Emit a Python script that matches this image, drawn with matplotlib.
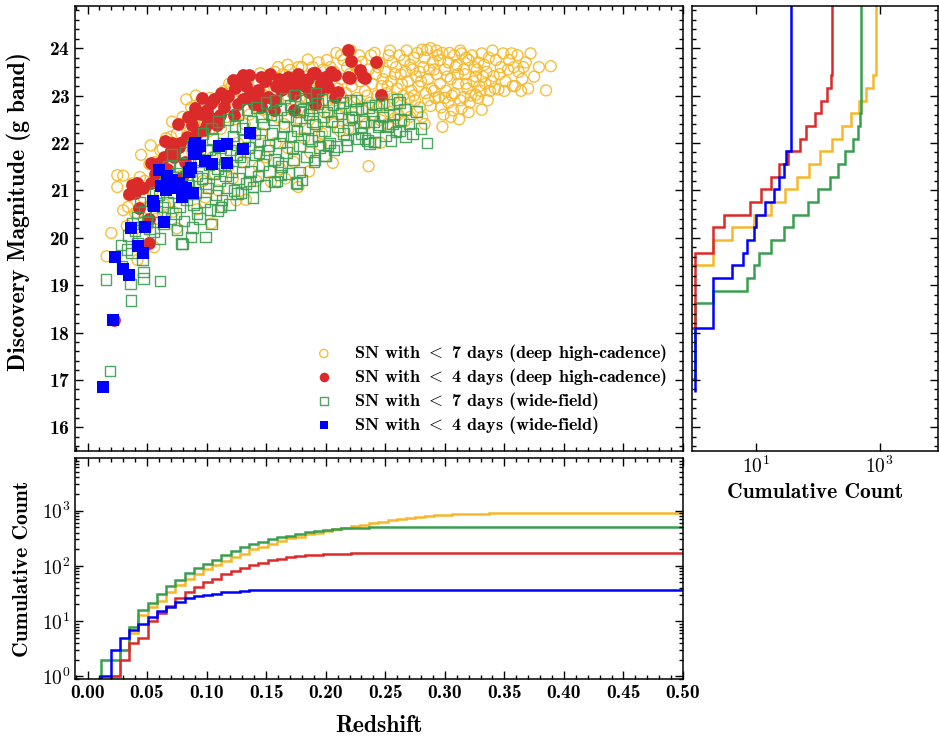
import numpy as np
import matplotlib.pyplot as plt
from matplotlib.ticker import MultipleLocator, LogLocator, FixedLocator, FuncFormatter, NullFormatter, NullLocator

plt.rcParams['font.family'] = ['cmb10', 'DejaVu Serif']
plt.rcParams['mathtext.fontset'] = 'cm'
plt.rcParams['axes.unicode_minus'] = False
plt.rcParams['axes.formatter.use_mathtext'] = True

# colours
c_yel = '#F5B82A'
c_red = '#DB2A2A'
c_grn = '#3A9E50'
c_blu = '#0000FF'

# ---- scatter data: (redshift, discovery magnitude) ----
# SN with < 7 days (deep high-cadence)
yellow = [
    (0.016, 19.61), (0.020, 20.10), (0.025, 21.07), (0.030, 21.31), (0.025, 21.32), (0.030, 20.58),
    (0.042, 20.51), (0.040, 20.52), (0.042, 19.53), (0.051, 20.27), (0.044, 21.28), (0.035, 20.90),
    (0.046, 20.02), (0.050, 20.62), (0.055, 21.00), (0.058, 20.40), (0.060, 21.30), (0.063, 21.88),
    (0.061, 21.85), (0.047, 20.85), (0.038, 21.15), (0.052, 21.55), (0.033, 20.25), (0.056, 19.80),
    (0.045, 21.75), (0.065, 20.70), (0.070, 21.60), (0.070, 22.13), (0.075, 22.20), (0.075, 20.20),
    (0.084, 22.16), (0.083, 22.92), (0.078, 21.30), (0.082, 20.90), (0.088, 21.80), (0.090, 22.40),
    (0.092, 20.60), (0.095, 22.87), (0.097, 21.20), (0.100, 22.60), (0.104, 20.30), (0.105, 21.70),
    (0.108, 22.90), (0.110, 21.00), (0.112, 22.30), (0.115, 23.10), (0.118, 21.50), (0.120, 22.70),
    (0.125, 20.79), (0.133, 20.80), (0.126, 22.00), (0.128, 23.08), (0.068, 21.05), (0.072, 20.55),
    (0.086, 21.45), (0.094, 21.95), (0.099, 20.85), (0.102, 22.25), (0.107, 21.35), (0.113, 20.65),
    (0.117, 22.55), (0.122, 21.25), (0.119, 23.25), (0.063, 20.45), (0.080, 22.55), (0.091, 23.00),
    (0.130, 21.60), (0.132, 22.40), (0.135, 23.35), (0.137, 21.90), (0.140, 22.80), (0.142, 21.20),
    (0.145, 23.47), (0.146, 22.20), (0.148, 23.10), (0.150, 21.70), (0.152, 22.60), (0.154, 21.18),
    (0.155, 23.40), (0.157, 23.50), (0.158, 22.00), (0.160, 22.90), (0.162, 21.45), (0.163, 23.30),
    (0.165, 22.40), (0.167, 23.00), (0.168, 21.90), (0.170, 23.54), (0.171, 22.70), (0.173, 21.60),
    (0.175, 23.20), (0.177, 21.07), (0.176, 22.30), (0.178, 22.95), (0.180, 23.60), (0.182, 22.10),
    (0.183, 23.40), (0.185, 23.76), (0.185, 22.60), (0.187, 21.80), (0.188, 23.10), (0.190, 22.80),
    (0.191, 23.45), (0.193, 22.35), (0.195, 23.20), (0.196, 21.95), (0.198, 23.55), (0.199, 22.65),
    (0.139, 23.00), (0.144, 21.50), (0.151, 22.95), (0.159, 22.55), (0.166, 21.25), (0.172, 23.05),
    (0.179, 22.45), (0.186, 21.40), (0.192, 23.00), (0.197, 22.20),
    (0.200, 23.30), (0.202, 22.90), (0.204, 23.60), (0.206, 21.58), (0.206, 22.45), (0.207, 23.50),
    (0.208, 22.90), (0.210, 23.15), (0.211, 22.60), (0.213, 23.85), (0.213, 23.35), (0.215, 23.75),
    (0.216, 22.75), (0.217, 23.05), (0.219, 22.30), (0.220, 23.45), (0.222, 23.20), (0.223, 22.55),
    (0.225, 23.65), (0.226, 22.95), (0.228, 23.85), (0.229, 23.30), (0.230, 23.71), (0.231, 22.70),
    (0.233, 23.10), (0.234, 22.40), (0.236, 21.51), (0.236, 23.55), (0.237, 22.85), (0.239, 23.25),
    (0.240, 22.60), (0.242, 23.45), (0.243, 23.00), (0.245, 23.70), (0.246, 22.48), (0.246, 22.00),
    (0.247, 23.20), (0.249, 22.80), (0.250, 23.50), (0.251, 23.05), (0.253, 23.85), (0.254, 22.65),
    (0.255, 23.30), (0.257, 22.95), (0.258, 22.52), (0.259, 23.60), (0.260, 23.15), (0.262, 22.85),
    (0.263, 23.45), (0.265, 23.00), (0.266, 23.75), (0.268, 22.70), (0.269, 23.30), (0.271, 22.55),
    (0.272, 23.10), (0.273, 23.55), (0.275, 22.90), (0.276, 23.40), (0.278, 23.20), (0.279, 22.75),
    (0.281, 23.97), (0.281, 22.55), (0.282, 23.60), (0.284, 23.05), (0.285, 23.96), (0.286, 23.35),
    (0.288, 22.78), (0.289, 23.15), (0.290, 23.70), (0.292, 22.95), (0.293, 23.45), (0.295, 22.97),
    (0.296, 23.25), (0.298, 22.34), (0.299, 22.60), (0.300, 23.55), (0.301, 23.10), (0.303, 22.85),
    (0.304, 23.90), (0.305, 23.35), (0.307, 22.69), (0.308, 23.05), (0.310, 23.65), (0.311, 23.25),
    (0.313, 22.90), (0.314, 22.73), (0.314, 23.89), (0.316, 22.97), (0.317, 23.45), (0.319, 23.15),
    (0.320, 23.75), (0.322, 23.00), (0.324, 23.30), (0.326, 23.02), (0.327, 23.55), (0.329, 23.20),
    (0.331, 23.89), (0.332, 23.40),
    (0.205, 23.05), (0.212, 22.25), (0.218, 23.60), (0.224, 22.85), (0.232, 23.40), (0.238, 23.85),
    (0.244, 22.75), (0.248, 23.35), (0.252, 22.40), (0.256, 23.70), (0.261, 22.60), (0.264, 23.25),
    (0.267, 23.50), (0.270, 22.95), (0.274, 23.80), (0.277, 22.65), (0.280, 23.30), (0.283, 22.40),
    (0.287, 23.55), (0.291, 23.10), (0.294, 23.85), (0.297, 22.75), (0.302, 23.40), (0.306, 23.00),
    (0.309, 23.60), (0.312, 22.50), (0.318, 23.25), (0.321, 22.85), (0.325, 23.60), (0.328, 22.95),
    (0.335, 23.50), (0.338, 23.10), (0.341, 23.41), (0.343, 23.75), (0.345, 23.13), (0.347, 23.60),
    (0.349, 23.89), (0.351, 23.30), (0.353, 23.55), (0.356, 23.89), (0.357, 23.20), (0.359, 23.20),
    (0.362, 23.50), (0.365, 23.35), (0.368, 23.70), (0.372, 23.89), (0.375, 23.40), (0.385, 23.11),
    (0.389, 23.62), (0.379, 23.60), (0.370, 23.15), (0.336, 22.90), (0.340, 23.95), (0.331, 22.70),
    (0.334, 23.25),
    (0.201, 23.75), (0.203, 22.60), (0.209, 23.90), (0.214, 22.95), (0.221, 23.95), (0.227, 23.50),
    (0.235, 23.00), (0.241, 23.90), (0.244, 23.60), (0.252, 23.20), (0.254, 23.95), (0.258, 23.45),
    (0.262, 23.85), (0.266, 22.45), (0.268, 23.95), (0.271, 23.65), (0.274, 23.00), (0.277, 23.90),
    (0.279, 23.50), (0.283, 23.80), (0.286, 22.90), (0.288, 24.00), (0.291, 23.55), (0.293, 23.95),
    (0.296, 23.75), (0.298, 23.90), (0.300, 22.95), (0.303, 23.70), (0.305, 22.55), (0.308, 23.85),
    (0.311, 23.45), (0.313, 23.95), (0.316, 23.55), (0.318, 23.80), (0.320, 22.65), (0.323, 23.85),
    (0.326, 23.40), (0.328, 23.70), (0.330, 23.10), (0.333, 23.65), (0.337, 23.80), (0.339, 23.30),
    (0.342, 23.15), (0.346, 23.45), (0.350, 23.10), (0.354, 23.75), (0.358, 23.60), (0.361, 23.85),
    (0.364, 23.10), (0.366, 23.60), (0.160, 23.60), (0.164, 23.45), (0.168, 23.65), (0.174, 23.40),
    (0.177, 23.60), (0.181, 23.25), (0.184, 22.95), (0.189, 23.60), (0.194, 23.70), (0.143, 23.30),
    (0.147, 22.70), (0.153, 23.20), (0.136, 22.60), (0.131, 23.00), (0.124, 22.50), (0.121, 23.20),
    (0.109, 22.70), (0.103, 22.95), (0.097, 22.50), (0.087, 22.75), (0.079, 22.40), (0.071, 22.45),
    (0.066, 22.10), (0.057, 21.60), (0.053, 21.95), (0.048, 21.20), (0.039, 20.95), (0.034, 20.65),
]

# SN with < 4 days (deep high-cadence)
red = [
    (0.0225, 18.26), (0.0514, 19.89), (0.0436, 20.62), (0.0346, 20.93), (0.0374, 21.11), (0.0417, 21.15),
    (0.0529, 21.16), (0.0599, 21.57), (0.0669, 21.46), (0.0712, 21.99), (0.0759, 22.39), (0.0796, 21.28),
    (0.0880, 22.38), (0.0889, 22.59), (0.0900, 22.73), (0.0950, 22.62), (0.1007, 22.69), (0.1007, 22.40),
    (0.1062, 22.92), (0.1147, 22.76), (0.1161, 22.95), (0.1091, 22.38), (0.0936, 21.92), (0.0697, 21.83),
    (0.0725, 21.71), (0.0767, 21.92), (0.1218, 23.32), (0.1302, 23.43), (0.1358, 23.43), (0.1302, 22.92),
    (0.1344, 22.97), (0.1400, 22.83), (0.1456, 22.90), (0.1428, 23.11), (0.1513, 22.97), (0.1568, 22.90),
    (0.1625, 23.11), (0.1681, 23.32), (0.1737, 23.36), (0.1793, 23.25), (0.1850, 23.36), (0.1906, 23.47),
    (0.1962, 23.25), (0.2018, 23.39), (0.2074, 23.43), (0.2187, 23.96), (0.2215, 23.73), (0.2314, 23.39),
    (0.2426, 23.71), (0.1737, 22.69), (0.1906, 22.83), (0.1568, 22.69), (0.1456, 22.76), (0.1260, 22.83),
    (0.1737, 23.04), (0.1863, 23.08), (0.2018, 23.18), (0.2074, 22.97), (0.2187, 23.39), (0.1456, 23.39),
    (0.0978, 22.27), (0.0838, 22.13), (0.1020, 22.55), (0.1091, 22.52), (0.0529, 21.57), (0.0613, 21.50),
    (0.2200, 23.37), (0.2327, 23.37), (0.2103, 23.08), (0.2468, 23.02), (0.1892, 23.47), (0.2046, 23.50),
    (0.1680, 23.39), (0.1962, 23.29), (0.1906, 22.94), (0.0517, 20.40), (0.0820, 21.60), (0.1120, 23.05),
    (0.1580, 23.20), (0.1230, 22.60), (0.0650, 22.05),
    (0.078, 22.00), (0.084, 22.55), (0.092, 22.20), (0.096, 22.95), (0.104, 22.85), (0.111, 22.60),
    (0.118, 23.00), (0.124, 23.15), (0.128, 23.35), (0.133, 23.20), (0.138, 23.05), (0.149, 23.30),
    (0.153, 23.45), (0.161, 23.35), (0.165, 23.15), (0.171, 23.20), (0.177, 23.45), (0.183, 23.20),
    (0.194, 23.10), (0.199, 23.40), (0.064, 21.70), (0.057, 21.35), (0.047, 21.05), (0.040, 20.95),
    (0.229, 23.55),
]

# SN with < 7 days (wide-field)
green = [
    (0.0155, 19.12), (0.019, 17.19), (0.0366, 18.68), (0.036, 19.02), (0.047, 19.28), (0.047, 19.14),
    (0.061, 19.09), (0.029, 19.39), (0.037, 19.68), (0.046, 19.53), (0.042, 19.89), (0.079, 19.88),
    (0.080, 19.87), (0.087, 20.02), (0.099, 20.02), (0.088, 20.22), (0.104, 20.29), (0.061, 19.98),
    (0.056, 20.12), (0.075, 20.16), (0.042, 20.44), (0.109, 20.58), (0.092, 20.51), (0.074, 20.51),
    (0.033, 19.75), (0.040, 20.15), (0.050, 20.35), (0.054, 20.70), (0.058, 20.55), (0.064, 20.30),
    (0.067, 20.75), (0.070, 20.40), (0.072, 20.95), (0.077, 20.65), (0.081, 20.35), (0.083, 20.80),
    (0.085, 21.10), (0.089, 20.70), (0.091, 20.95), (0.094, 20.40), (0.096, 21.25), (0.098, 20.75),
    (0.101, 21.05), (0.103, 20.60), (0.106, 21.35), (0.108, 20.90), (0.111, 21.20), (0.113, 20.80),
    (0.115, 21.55), (0.117, 21.05), (0.119, 20.70), (0.121, 21.40), (0.123, 21.00), (0.125, 21.75),
    (0.127, 21.25), (0.129, 20.95), (0.131, 21.60), (0.133, 21.15), (0.135, 21.90), (0.137, 21.40),
    (0.139, 20.85), (0.141, 21.75), (0.143, 21.30), (0.145, 22.05), (0.147, 21.55), (0.149, 21.10),
    (0.151, 21.85), (0.153, 21.40), (0.155, 22.20), (0.157, 21.65), (0.159, 21.20), (0.161, 22.00),
    (0.163, 21.50), (0.165, 22.35), (0.167, 21.80), (0.169, 21.35), (0.171, 22.15), (0.173, 21.65),
    (0.175, 22.50), (0.176, 21.15), (0.178, 21.95), (0.180, 21.22), (0.179, 22.90), (0.182, 22.30),
    (0.184, 21.70), (0.186, 22.60), (0.188, 22.05), (0.190, 21.60), (0.191, 22.40), (0.193, 22.83),
    (0.195, 21.90), (0.197, 22.92), (0.199, 21.74), (0.199, 22.25), (0.201, 22.65), (0.203, 22.00),
    (0.205, 22.45), (0.207, 21.85), (0.209, 21.92), (0.211, 22.75), (0.213, 22.62), (0.215, 22.20),
    (0.217, 22.06), (0.219, 22.50), (0.221, 22.90), (0.223, 22.30), (0.225, 22.70), (0.227, 22.10),
    (0.230, 22.20), (0.230, 22.73), (0.232, 22.45), (0.235, 22.05), (0.237, 21.99), (0.239, 22.60),
    (0.241, 22.02), (0.242, 22.80), (0.244, 22.35), (0.245, 22.38), (0.248, 22.55), (0.250, 22.15),
    (0.253, 22.81), (0.256, 22.40), (0.259, 22.23), (0.260, 22.92), (0.263, 22.50), (0.267, 22.14),
    (0.270, 22.40), (0.276, 22.66), (0.285, 22.00), (0.280, 22.30),
    (0.060, 20.90), (0.065, 21.20), (0.068, 21.50), (0.071, 21.76), (0.074, 21.10), (0.078, 21.50),
    (0.082, 21.80), (0.086, 21.40), (0.090, 22.00), (0.093, 21.65), (0.097, 22.20), (0.100, 21.85),
    (0.104, 22.30), (0.107, 21.70), (0.110, 22.45), (0.114, 22.00), (0.118, 22.50), (0.122, 22.15),
    (0.126, 22.60), (0.130, 22.30), (0.134, 22.70), (0.138, 22.45), (0.142, 22.75), (0.146, 22.55),
    (0.150, 22.85), (0.154, 22.60), (0.158, 22.90), (0.162, 22.70), (0.166, 22.95), (0.170, 22.80),
    (0.174, 23.00), (0.178, 22.65), (0.183, 22.95), (0.188, 22.75), (0.192, 23.05),
    (0.175, 21.16), (0.191, 21.64), (0.178, 21.39), (0.200, 21.74), (0.241, 22.02), (0.162, 21.32),
    (0.157, 21.18), (0.139, 21.07), (0.126, 20.93), (0.112, 20.65),
    (0.102, 21.55), (0.105, 22.10), (0.109, 21.45), (0.112, 21.90), (0.116, 21.30), (0.120, 21.85),
    (0.124, 22.35), (0.128, 21.70), (0.132, 22.05), (0.136, 21.20), (0.140, 22.20), (0.144, 21.80),
    (0.148, 22.40), (0.152, 21.95), (0.156, 22.50), (0.160, 21.60), (0.164, 22.15), (0.168, 22.55),
    (0.172, 21.90), (0.176, 22.25), (0.181, 22.70), (0.185, 22.10), (0.189, 22.45), (0.194, 22.15),
    (0.198, 22.55), (0.202, 21.95), (0.206, 22.80), (0.210, 22.35), (0.214, 22.85), (0.218, 21.95),
    (0.222, 22.55), (0.226, 22.90), (0.229, 22.35), (0.233, 22.10), (0.236, 22.75), (0.240, 22.45),
    (0.247, 22.85), (0.252, 22.35), (0.257, 22.60), (0.262, 22.25), (0.266, 22.70), (0.273, 22.20),
    (0.262, 22.85), (0.255, 22.05), (0.084, 21.20), (0.088, 21.95), (0.092, 21.30), (0.095, 21.60),
    (0.099, 21.15), (0.103, 21.85), (0.075, 21.35), (0.080, 21.05), (0.063, 20.65), (0.057, 20.95),
    (0.052, 20.20), (0.048, 20.55), (0.044, 20.75), (0.038, 20.30), (0.034, 20.05), (0.028, 19.85),
]

# SN with < 4 days (wide-field)
blue = [
    (0.013, 16.84), (0.0211, 18.26), (0.0234, 19.60), (0.0298, 19.35), (0.0352, 19.21), (0.0369, 20.20),
    (0.0425, 19.82), (0.0467, 19.67), (0.0481, 20.23), (0.0548, 20.77), (0.0557, 20.67), (0.0644, 20.34),
    (0.0599, 21.43), (0.0669, 21.31), (0.0712, 21.22), (0.0655, 21.00), (0.0740, 21.04), (0.0796, 21.07),
    (0.0796, 20.86), (0.0885, 20.95), (0.0852, 21.39), (0.0866, 21.47), (0.0894, 21.92), (0.0944, 21.94),
    (0.0894, 21.76), (0.0984, 21.62), (0.1049, 21.55), (0.1108, 21.94), (0.1175, 21.97), (0.1175, 21.57),
    (0.1302, 21.88), (0.1366, 22.21), (0.0620, 21.10), (0.0770, 21.15), (0.0830, 21.05), (0.0900, 22.00),
    (0.0910, 21.85),
]

# ---- cumulative counts per redshift bin (bottom panel) ----
z_edges = np.linspace(0.004, 0.5, 65)
cum_z_yel = [0, 0, 1, 3, 6, 13, 18, 23, 33, 45, 57, 70, 86, 102, 122, 146, 166, 198, 221, 251,
             279, 312, 335, 380, 395, 425, 455, 490, 520, 545, 590, 630, 670, 710, 745, 775, 800, 825,
             845, 860, 870, 878, 883, 887, 889, 890, 890, 890, 890, 890, 890, 890, 890, 890, 890, 890,
             890, 890, 890, 890, 890, 890, 890, 890]
cum_z_red = [0, 0, 1, 2, 4, 5, 10, 14, 19, 26, 33, 41, 50, 58, 70, 81, 91, 103, 114, 125, 134, 143,
             150, 156, 160, 163, 165, 167, 168, 168, 168, 168, 168, 168, 168, 168, 168, 168, 168, 168,
             168, 168, 168, 168, 168, 168, 168, 168, 168, 168, 168, 168, 168, 168, 168, 168, 168, 168,
             168, 168, 168, 168, 168, 168]
cum_z_grn = [0, 2, 2, 3, 8, 16, 21, 31, 43, 55, 73, 90, 106, 125, 160, 185, 221, 251, 272, 300, 330,
             344, 380, 405, 425, 450, 468, 480, 488, 492, 495, 495, 495, 495, 495, 495, 495, 495, 495,
             495, 495, 495, 495, 495, 495, 495, 495, 495, 495, 495, 495, 495, 495, 495, 495, 495, 495,
             495, 495, 495, 495, 495, 495, 495]
cum_z_blu = [0, 1, 3, 5, 7, 9, 12, 15, 18, 22, 26, 28, 30, 31, 33, 34, 35, 37, 37, 37, 37, 37, 37,
             37, 37, 37, 37, 37, 37, 37, 37, 37, 37, 37, 37, 37, 37, 37, 37, 37, 37, 37, 37, 37, 37, 37,
             37, 37, 37, 37, 37, 37, 37, 37, 37, 37, 37, 37, 37, 37, 37, 37, 37, 37]

# ---- cumulative counts per magnitude bin (right panel) ----
m_edges = np.linspace(16.75, 25.027, 32)
cum_m_yel = [0, 0, 0, 0, 0, 0, 0, 0, 0, 0, 2, 2, 4, 9, 17, 29, 45, 72, 107, 169, 250, 348, 470, 610,
             780, 860, 882, 890, 890, 890, 890]
cum_m_red = [0, 0, 0, 0, 0, 1, 1, 1, 1, 1, 1, 2, 2, 3, 8, 12, 17, 23, 33, 51, 65, 91, 114, 138, 162,
             166, 167, 168, 168, 168, 168]
cum_m_grn = [0, 1, 1, 1, 1, 1, 1, 2, 7, 9, 11, 17, 28, 40, 68, 101, 155, 210, 272, 365, 440, 480, 495,
             495, 495, 495, 495, 495, 495, 495, 495]
cum_m_blu = [1, 1, 1, 1, 1, 2, 2, 2, 2, 4, 6, 7, 9, 10, 14, 19, 23, 28, 30, 36, 37, 37, 37, 37, 37,
             37, 37, 37, 37, 37, 37]

labels = ['SN with ${<}$ 7 days (deep high-cadence)',
          'SN with ${<}$ 4 days (deep high-cadence)',
          'SN with ${<}$ 7 days (wide-field)',
          'SN with ${<}$ 4 days (wide-field)']

W, H = 939, 739
fig = plt.figure(figsize=(W / 100, H / 100), dpi=100)
ax = fig.add_axes([75 / W, 1 - 451 / H, (683 - 75) / W, (451 - 6) / H])
axb = fig.add_axes([75 / W, 1 - 679 / H, (683 - 75) / W, (679 - 458) / H], sharex=ax)
axr = fig.add_axes([692 / W, 1 - 451 / H, (938 - 692) / W, (451 - 6) / H], sharey=ax)

yz, ym = zip(*yellow)
rz, rm = zip(*red)
gz, gm = zip(*green)
bz, bm = zip(*blue)
ax.scatter(yz, ym, s=62, facecolors='none', edgecolors=c_yel, linewidths=1.0, alpha=0.9, label=labels[0])
ax.scatter(rz, rm, s=85, color=c_red, linewidths=0, label=labels[1])
ax.scatter(gz, gm, s=58, marker='s', facecolors='none', edgecolors=c_grn, linewidths=1.0, alpha=0.9,
           label=labels[2])
ax.scatter(bz, bm, s=72, marker='s', color=c_blu, linewidths=0, label=labels[3])

leg = ax.legend(loc='lower right', frameon=False, fontsize=13, handletextpad=0.7, markerscale=0.75,
                labelspacing=0.1, borderaxespad=0.45, scatterpoints=1)

for vals, col in [(cum_z_yel, c_yel), (cum_z_grn, c_grn), (cum_z_red, c_red), (cum_z_blu, c_blu)]:
    axb.stairs(vals, z_edges, baseline=None, color=col, lw=1.8)
for vals, col in [(cum_m_yel, c_yel), (cum_m_grn, c_grn), (cum_m_red, c_red), (cum_m_blu, c_blu)]:
    axr.stairs(vals, m_edges, baseline=None, orientation='horizontal', color=col, lw=1.8)

ax.set_xlim(-0.0105, 0.5)
ax.set_ylim(15.5, 24.89)
axb.set_yscale('log')
axb.set_ylim(0.9, 8900)
axr.set_xscale('log')
axr.set_xlim(0.9, 8900)

logfmt = FuncFormatter(lambda v, p: r'$\mathbf{10^{%d}}$' % int(round(np.log10(v))))

ax.xaxis.set_major_locator(MultipleLocator(0.05))
ax.xaxis.set_minor_locator(MultipleLocator(0.01))
ax.yaxis.set_major_locator(MultipleLocator(1))
ax.yaxis.set_minor_locator(MultipleLocator(0.2))
ax.xaxis.set_major_formatter(FuncFormatter(lambda v, p: '%.2f' % v))

axb.yaxis.set_major_locator(FixedLocator([1, 10, 100, 1000]))
axb.yaxis.set_minor_locator(LogLocator(base=10, subs=np.arange(2, 10), numticks=20))
axb.yaxis.set_major_formatter(logfmt)
axb.yaxis.set_minor_formatter(NullFormatter())

axr.xaxis.set_major_locator(FixedLocator([10, 1000]))
axr.xaxis.set_minor_locator(NullLocator())
axr.xaxis.set_major_formatter(logfmt)

for a in (ax, axb, axr):
    a.tick_params(which='both', direction='in', top=True, right=True, width=1.0)
    a.tick_params(which='major', length=6, labelsize=14)
    a.tick_params(which='minor', length=3)
    for s in a.spines.values():
        s.set_linewidth(1.1)

ax.tick_params(labelbottom=False)
axr.tick_params(labelleft=False)

ax.set_ylabel('Discovery Magnitude (g band)', fontsize=17)
ax.yaxis.set_label_coords(-0.072, 0.537)
axb.set_ylabel('Cumulative Count', fontsize=15.5)
axb.yaxis.set_label_coords(-0.071, 0.5)
axb.set_xlabel('Redshift', fontsize=17)
axb.xaxis.set_label_coords(0.5, -0.165)
axr.set_xlabel('Cumulative Count', fontsize=15.5)
axr.xaxis.set_label_coords(0.5, -0.072)

fig.savefig('out.png', dpi=100)
